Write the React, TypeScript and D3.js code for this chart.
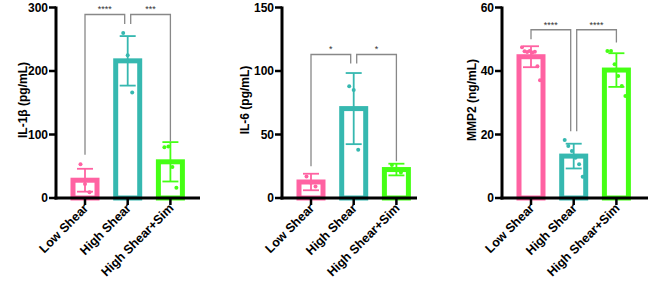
import React from "react";
import * as d3 from "d3";

const categories = ["Low Shear", "High Shear", "High Shear+Sim"];
const colors = ["#ff62a2", "#36b8b0", "#45ff14"];

// Panel 1: IL-1β
const il1bMean = [28, 216, 57];
const il1bSD = [18, 39, 31];
const il1bPoints = [[53, 22, 9], [260, 225, 166], [80, 81, 49, 16]];
const il1bBrackets = [
  { a: 0, b: 1, top: 289, endA: 68, endB: 274, label: "****" },
  { a: 1, b: 2, top: 289, endA: 274, endB: 89, label: "***" },
];

// Panel 2: IL-6
const il6Mean = [12.6, 70.4, 22.4];
const il6SD = [6.5, 28, 4.6];
const il6Points = [[17, 12, 9], [88, 85, 38], [26, 22, 20]];
const il6Brackets = [
  { a: 0, b: 1, top: 113, endA: 25, endB: 106, label: "*" },
  { a: 1, b: 2, top: 113, endA: 106, endB: 29, label: "*" },
];

// Panel 3: MMP2
const mmp2Mean = [44.5, 13.2, 40.3];
const mmp2SD = [3.3, 3.9, 5.3];
const mmp2Points = [
  [47.5, 46.2, 46.0, 46.3, 45.8, 46.1, 41.5, 37.1],
  [18.3, 16.4, 14.8, 12.7, 10.6, 6.7],
  [46.3, 46.3, 42.1, 38.4, 35.3, 32.1],
];
const mmp2Brackets = [
  { a: 0, b: 1, top: 53, endA: 50, endB: 21, label: "****" },
  { a: 1, b: 2, top: 53, endA: 21, endB: 49, label: "****" },
];

const yMaxes = [300, 150, 60];
const yTicks = [[0, 100, 200, 300], [0, 50, 100, 150], [0, 20, 40, 60]];
const yTitles = ["IL-1β (pg/mL)", "IL-6 (pg/mL)", "MMP2 (ng/mL)"];

const panels = [
  { mean: il1bMean, sd: il1bSD, pts: il1bPoints, br: il1bBrackets },
  { mean: il6Mean, sd: il6SD, pts: il6Points, br: il6Brackets },
  { mean: mmp2Mean, sd: mmp2SD, pts: mmp2Points, br: mmp2Brackets },
];

// layout
const axisX = [56, 282, 502];
const axisEnd = [200, 417, 648];
const titleOff = [33, 37, 30];
const y0 = 198;
const yTop = 7.5;
const font = "Liberation Sans, Arial, sans-serif";

function jitter(n: number, i: number) {
  if (n <= 1) return 0;
  const span = Math.min(18, n * 3);
  return -span / 2 + (span * i) / (n - 1);
}

function Panel({ p }: { p: number }) {
  const d = panels[p];
  const ax = axisX[p];
  const x = d3
    .scalePoint<string>()
    .domain(categories)
    .range([ax + 29, ax + 29 + 85.4]);
  const y = d3.scaleLinear().domain([0, yMaxes[p]]).range([y0, yTop]);
  const barW = 24;
  const cap = 8;
  return (
    <g>
      {/* bars */}
      {categories.map((c, i) => (
        <rect
          key={"b" + i}
          x={x(c)! - barW / 2}
          y={y(d.mean[i])}
          width={barW}
          height={y0 - y(d.mean[i])}
          fill="white"
          stroke={colors[i]}
          strokeWidth={5}
        />
      ))}
      {/* error bars */}
      {categories.map((c, i) => {
        const cx = x(c)!;
        const hi = y(d.mean[i] + d.sd[i]);
        const lo = y(Math.max(0, d.mean[i] - d.sd[i]));
        return (
          <g key={"e" + i} stroke={colors[i]} strokeWidth={1.8}>
            <line x1={cx} x2={cx} y1={hi} y2={lo} />
            <line x1={cx - cap} x2={cx + cap} y1={hi} y2={hi} />
            <line x1={cx - cap} x2={cx + cap} y1={lo} y2={lo} />
          </g>
        );
      })}
      {/* points */}
      {categories.map((c, i) =>
        d.pts[i].map((v, j) => (
          <circle
            key={"p" + i + "-" + j}
            cx={x(c)! + jitter(d.pts[i].length, j)}
            cy={y(v)}
            r={2}
            fill={colors[i]}
          />
        ))
      )}
      {/* axes */}
      <line x1={ax} x2={ax} y1={yTop - 1} y2={y0 + 1.5} stroke="#000" strokeWidth={3} />
      <line x1={ax - 1.5} x2={axisEnd[p]} y1={y0} y2={y0} stroke="#000" strokeWidth={3} />
      {yTicks[p].map((t) => (
        <g key={"t" + t}>
          <line x1={ax - 7} x2={ax} y1={y(t)} y2={y(t)} stroke="#000" strokeWidth={2.5} />
          <text
            x={ax - 8}
            y={y(t)}
            dy="0.36em"
            textAnchor="end"
            fontSize={12}
            fontWeight="bold"
            fontFamily={font}
          >
            {t}
          </text>
        </g>
      ))}
      {categories.map((c, i) => (
        <g key={"x" + i}>
          <line x1={x(c)!} x2={x(c)!} y1={y0} y2={y0 + 7} stroke="#000" strokeWidth={2.5} />
          <text
            transform={`translate(${x(c)! + 4},${y0 + 11}) rotate(-45)`}
            textAnchor="end"
            fontSize={12.5}
            fontWeight="bold"
            fontFamily={font}
          >
            {c}
          </text>
        </g>
      ))}
      <text
        transform={`translate(${ax - titleOff[p]},${100}) rotate(-90)`}
        textAnchor="middle"
        dy="0.35em"
        fontSize={12}
        fontWeight="bold"
        fontFamily={font}
      >
        {yTitles[p]}
      </text>
      {/* brackets */}
      {d.br.map((b, k) => {
        const off = 3;
        const xa = x(categories[b.a])! + (b.a === 1 ? off : 0);
        const xb = x(categories[b.b])! - (b.b === 1 ? off : 0);
        const yt = y(b.top);
        return (
          <g key={"br" + k}>
            <path
              d={`M${xa},${y(b.endA)}V${yt}H${xb}V${y(b.endB)}`}
              fill="none"
              stroke="#888"
              strokeWidth={1.3}
            />
            <text
              x={(xa + xb) / 2}
              y={yt - 2}
              textAnchor="middle"
              fontSize={9}
              fill="#333"
              fontFamily={font}
            >
              {b.label}
            </text>
          </g>
        );
      })}
    </g>
  );
}

export default function App() {
  return (
    <svg
      width={670}
      height={286}
      style={{ position: "absolute", left: 0, top: 0, background: "white" }}
    >
      <rect width={670} height={286} fill="white" />
      {[0, 1, 2].map((p) => (
        <Panel key={p} p={p} />
      ))}
    </svg>
  );
}
